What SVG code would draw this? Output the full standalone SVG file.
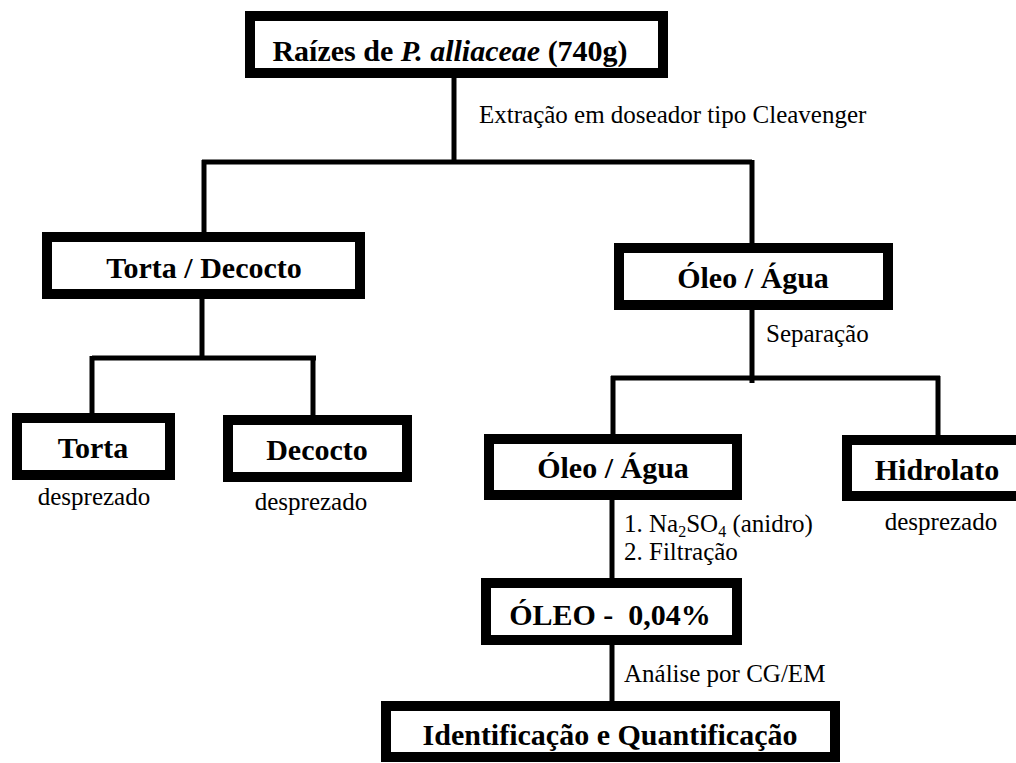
<svg xmlns="http://www.w3.org/2000/svg" width="1016" height="763" viewBox="0 0 1016 763">
  <style>
    .box { fill: #fff; stroke: #000; stroke-width: 10; }
    .title { font-family: "Liberation Serif", "Times New Roman", serif; font-weight: bold; font-size: 30px; fill: #000; text-anchor: middle; }
    .note { font-family: "Liberation Serif", "Times New Roman", serif; font-size: 25px; fill: #000; }
    .mid { text-anchor: middle; }
    .wire { stroke: #000; stroke-width: 5; fill: none; stroke-linecap: butt; }
  </style>
  <rect width="1016" height="763" fill="#fff"/>

  <!-- connectors -->
  <g id="connectors">
    <path class="wire" d="M454 78 V162"/>
    <path class="wire" d="M202 162 H752"/>
    <path class="wire" d="M204 160 V232"/>
    <path class="wire" d="M752 160 V243"/>
    <path class="wire" d="M202 299 V358"/>
    <path class="wire" d="M92 358 H316"/>
    <path class="wire" d="M92 356 V413"/>
    <path class="wire" d="M313 356 V415"/>
    <path class="wire" d="M752 310 V383"/>
    <path class="wire" d="M611 378 H940"/>
    <path class="wire" d="M613 376 V434"/>
    <path class="wire" d="M938 376 V435"/>
    <path class="wire" d="M612 500 V578"/>
    <path class="wire" d="M612 645 V701"/>
  </g>

  <!-- step labels -->
  <g id="labels">
    <text class="note" x="479" y="123">Extração em doseador tipo Cleavenger</text>
    <text class="note" x="766" y="342">Separação</text>
    <text class="note" x="624" y="532">1. Na<tspan font-size="16" dy="5">2</tspan><tspan dy="-5">SO</tspan><tspan font-size="16" dy="5">4</tspan><tspan dy="-5"> (anidro)</tspan></text>
    <text class="note" x="624" y="560">2. Filtração</text>
    <text class="note" x="624" y="682">Análise por CG/EM</text>
  </g>

  <g id="n-raizes">
    <rect class="box" x="250" y="16" width="413" height="57"/>
    <text class="title" x="450" y="61">Raízes de <tspan font-style="italic">P. alliaceae</tspan> (740g)</text>
  </g>

  <g id="n-torta-decocto">
    <rect class="box" x="47" y="237" width="313" height="57"/>
    <text class="title" x="204" y="278">Torta / Decocto</text>
  </g>

  <g id="n-oleo-agua-1">
    <rect class="box" x="619" y="248" width="269" height="57"/>
    <text class="title" x="753" y="288">Óleo / Água</text>
  </g>

  <g id="n-torta">
    <rect class="box" x="17" y="418" width="153" height="57"/>
    <text class="title" x="93" y="458">Torta</text>
    <text class="note mid" x="94" y="505">desprezado</text>
  </g>

  <g id="n-decocto">
    <rect class="box" x="228" y="420" width="179" height="57"/>
    <text class="title" x="317" y="460">Decocto</text>
    <text class="note mid" x="311" y="510">desprezado</text>
  </g>

  <g id="n-oleo-agua-2">
    <rect class="box" x="489" y="439" width="248" height="56"/>
    <text class="title" x="613" y="478">Óleo / Água</text>
  </g>

  <g id="n-hidrolato">
    <rect class="box" x="847" y="440" width="180" height="56"/>
    <text class="title" x="937" y="480">Hidrolato</text>
    <text class="note mid" x="941" y="530">desprezado</text>
  </g>

  <g id="n-oleo">
    <rect class="box" x="486" y="583" width="251" height="57"/>
    <text class="title" x="610" y="625" xml:space="preserve">ÓLEO -  0,04%</text>
  </g>

  <g id="n-identificacao">
    <rect class="box" x="386" y="706" width="449" height="51"/>
    <text class="title" x="610" y="745">Identificação e Quantificação</text>
  </g>
</svg>
